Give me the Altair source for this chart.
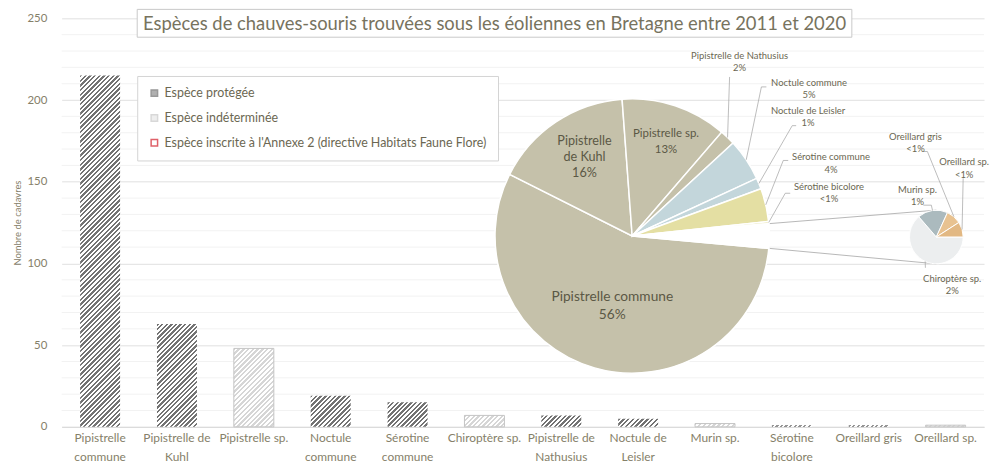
import json
import math
import altair as alt
import pandas as pd

# ---------------- données ----------------
especes = ["Pipistrelle commune", "Pipistrelle de Kuhl", "Pipistrelle sp.", "Noctule commune",
           "Sérotine commune", "Chiroptère sp.", "Pipistrelle de Nathusius", "Noctule de Leisler",
           "Murin sp.", "Sérotine bicolore", "Oreillard gris", "Oreillard sp."]
cadavres = [215, 63, 48, 19, 15, 7, 7, 5, 2, 1, 1, 1]
statuts = ["Espèce protégée", "Espèce protégée", "Espèce indéterminée", "Espèce protégée",
           "Espèce protégée", "Espèce indéterminée", "Espèce protégée", "Espèce protégée",
           "Espèce indéterminée", "Espèce protégée", "Espèce protégée", "Espèce indéterminée"]
etiquettes_x = [["Pipistrelle", "commune"], ["Pipistrelle de", "Kuhl"], ["Pipistrelle sp."],
                ["Noctule", "commune"], ["Sérotine", "commune"], ["Chiroptère sp."],
                ["Pipistrelle de", "Nathusius"], ["Noctule de", "Leisler"], ["Murin sp."],
                ["Sérotine", "bicolore"], ["Oreillard gris"], ["Oreillard sp."]]
categories_legende = ["Espèce protégée", "Espèce indéterminée",
                      "Espèce inscrite à l'Annexe 2 (directive Habitats Faune Flore)"]
graduations_y = [0, 50, 100, 150, 200, 250]
graduations_mineures = [10, 20, 30, 40, 60, 70, 80, 90, 110, 120, 130, 140,
                        160, 170, 180, 190, 210, 220, 230, 240]
ordre_principal = ["Pipistrelle commune", "Pipistrelle de Kuhl", "Pipistrelle sp.",
                   "Pipistrelle de Nathusius", "Noctule commune", "Noctule de Leisler",
                   "Sérotine commune", "Sérotine bicolore"]
ordre_secondaire = ["Chiroptère sp.", "Murin sp.", "Oreillard gris", "Oreillard sp."]
noms_camembert = {"Pipistrelle de Kuhl": "Pipistrelle\nde Kuhl"}
titre = "Espèces de chauves-souris trouvées sous les éoliennes en Bretagne entre 2011 et 2020"

# ---------------- styles / mise en page ----------------
W, H = 928, 411
OX, OY = 62, 17          # origine de la zone de tracé dans la page
PAD = {"left": 54, "top": 9, "right": 6, "bottom": 35}
Y_MAX = 250
P_INNER, P_OUTER = 0.48, 0.24
FONT = "Lato"
C_AXE = "#858069"
C_TEXTE = "#6b6752"
C_TEXTE_FONCE = "#5b5845"

couleurs_camembert = {
    "Pipistrelle commune": "#c5c1aa", "Pipistrelle de Kuhl": "#c5c1aa",
    "Pipistrelle sp.": "#c5c1aa", "Pipistrelle de Nathusius": "#c5c1aa",
    "Noctule commune": "#c3d6db", "Noctule de Leisler": "#c3d6db",
    "Sérotine commune": "#e4dfa3", "Sérotine bicolore": "#e4dfa3",
    "Autres": "#ffffff",
    "Chiroptère sp.": "#eceeef", "Murin sp.": "#abbabe",
    "Oreillard gris": "#e8c290", "Oreillard sp.": "#e2b883",
}
hachure = {"Espèce protégée": ("#737373", "#ffffff", None),
           "Espèce indéterminée": ("#d6d6d6", "#ffffff", "#c4c4c4")}


def P(x, y):
    """coordonnées page -> coordonnées zone de tracé"""
    return (x - OX, y - OY)


CX1, CY1 = P(636, 236)
R1 = 138
CX2, CY2 = P(942, 237)
R2 = 27

# étiquettes intérieures : centre de la 1re ligne (page), taille, interligne
pos_int = {"Pipistrelle commune": (616, 297, 13.8, 19),
           "Pipistrelle de Kuhl": (588, 140, 12.7, 16.5),
           "Pipistrelle sp.": (670, 133, 11.5, 17)}
# étiquettes extérieures : centre 1re ligne, fin du trait de rappel, petite queue
pos_ext = {"Pipistrelle de Nathusius": ((744, 55), (734, 76), None),
           "Noctule commune": ((814, 82), (766, 86), (771, 86)),
           "Noctule de Leisler": ((813, 110), (797, 125), (801, 125)),
           "Sérotine commune": ((836, 157), (788, 160), (793, 160)),
           "Sérotine bicolore": ((834, 187), (790, 193), (795, 193)),
           "Oreillard gris": ((921, 136), (933, 151), (928, 151)),
           "Oreillard sp.": ((970, 162), (969, 178), None),
           "Murin sp.": ((923, 190), (937, 205), (929, 205)),
           "Chiroptère sp.": ((958, 279), (931, 268), None)}

# ---------------- calculs ----------------
valeur = dict(zip(especes, cadavres))
total = sum(cadavres)
autres = sum(valeur[e] for e in ordre_secondaire)


def pct(v):
    p = math.floor(v / total * 100 + 0.5)
    return "<1%" if p < 1 else f"{p}%"


step = W / (len(especes) - P_INNER + 2 * P_OUTER)
bar_w = step * (1 - P_INNER)


def hachures(w, h, fonce, clair, pas=4.7, part=0.5):
    tot = w + h
    n = max(1, int(round(tot / pas)))
    stops = []
    for i in range(n):
        a, b, c = i / n, (i + part) / n, (i + 1) / n
        stops += [alt.GradientStop(color=fonce, offset=a), alt.GradientStop(color=fonce, offset=b),
                  alt.GradientStop(color=clair, offset=b), alt.GradientStop(color=clair, offset=c)]
    k = tot / (w * w + h * h)
    return alt.LinearGradient(gradient="linear", stops=stops, x1=0, y1=0, x2=k * w, y2=k * h)


df = pd.DataFrame({"espece": especes, "n": cadavres, "statut": statuts})

names_js = json.dumps(especes, ensure_ascii=False)
lines_js = json.dumps(etiquettes_x, ensure_ascii=False)

x_enc = alt.X("espece:N", sort=None,
              scale=alt.Scale(domain=especes, paddingInner=P_INNER, paddingOuter=P_OUTER),
              axis=alt.Axis(title=None, labelExpr=f"{lines_js}[indexof({names_js}, datum.value)]",
                            labelAngle=0, ticks=False, domainColor="#d9d9d9", labelColor=C_AXE,
                            labelFont=FONT, labelFontSize=12, labelLineHeight=18.5, labelPadding=6,
                            labelBaseline="top", labelOverlap=False, grid=False, labelLimit=200))
y_axis = alt.Axis(values=graduations_y, title="Nombre de cadavres", grid=True,
                  gridColor="#e0e0e0", domain=False, ticks=False, labelColor=C_AXE,
                  labelFont=FONT, labelFontSize=11.5, labelPadding=15,
                  titleFont=FONT, titleFontSize=9.5, titleColor=C_AXE,
                  titleFontWeight="normal", titleX=-44, titleY=H / 2,
                  titleAlign="center", titleBaseline="middle")
y_enc = alt.Y("n:Q", scale=alt.Scale(domain=[0, Y_MAX]), axis=y_axis)

layers = []

# barres hachurées
for e, v, s in zip(especes, cadavres, statuts):
    h = v * H / Y_MAX
    fonce, clair, trait = hachure[s]
    props = dict(fill=hachures(bar_w, h, fonce, clair))
    if trait:
        props.update(stroke=trait, strokeWidth=1)
    layers.append(alt.Chart(df).transform_filter(alt.datum.espece == e)
                  .mark_bar(**props).encode(x=x_enc, y=y_enc))

# quadrillage secondaire (sous les barres grâce à zindex)
grille = alt.Chart(pd.DataFrame({"n": graduations_mineures})).mark_rule(
    color="#f2f2f2", strokeWidth=1).encode(y=y_enc)
layers.insert(0, grille)

# camembert principal
noms_p = ordre_principal + ["Autres"]
vals_p = [valeur[e] for e in ordre_principal] + [autres]
df_p = pd.DataFrame({"espece": noms_p, "n1": vals_p, "ordre": list(range(len(noms_p)))})
a0 = math.pi / 2 + math.pi * autres / total
dom_c = list(couleurs_camembert.keys())
rng_c = list(couleurs_camembert.values())
col_enc = alt.Color("espece:N", scale=alt.Scale(domain=dom_c, range=rng_c), legend=None)

# camembert secondaire
vals_s = [valeur[e] for e in ordre_secondaire]
df_s = pd.DataFrame({"espece": ordre_secondaire, "n2": vals_s, "ordre": list(range(len(vals_s)))})
b0 = math.pi / 2


def bord(cx, cy, r, a):
    return (cx + r * math.sin(a), cy - r * math.cos(a))


def rule(p1, p2, color="#a6a6a6", w=0.8):
    return alt.Chart(df.head(1)).mark_rule(color=color, strokeWidth=w).encode(
        x=alt.value(p1[0]), y=alt.value(p1[1]), x2=alt.value(p2[0]), y2=alt.value(p2[1]))


# lignes de liaison entre les deux camemberts
ua = a0 + 2 * math.pi - 2 * math.pi * autres / total
la = a0 + 2 * math.pi
layers.append(rule(bord(CX1, CY1, R1, ua), (CX2, CY2 - R2)))
layers.append(rule(bord(CX1, CY1, R1, la), (CX2, CY2 + R2)))

layers.append(alt.Chart(df_p).mark_arc(radius=R1, stroke="white", strokeWidth=1.5).encode(
    theta=alt.Theta("n1:Q", stack=True, scale=alt.Scale(range=[a0, a0 + 2 * math.pi])),
    order=alt.Order("ordre:Q"), color=col_enc, x=alt.value(CX1), y=alt.value(CY1)))
layers.append(alt.Chart(df_s).mark_arc(radius=R2, stroke="white", strokeWidth=1).encode(
    theta=alt.Theta("n2:Q", stack=True, scale=alt.Scale(range=[b0, b0 + 2 * math.pi])),
    order=alt.Order("ordre:Q"), color=col_enc, x=alt.value(CX2), y=alt.value(CY2)))

# angles médians
mid = {}
acc = a0
for e, v in zip(noms_p, vals_p):
    mid[e] = ("p", acc + math.pi * v / total)
    acc += 2 * math.pi * v / total
acc = b0
for e, v in zip(ordre_secondaire, vals_s):
    mid[e] = ("s", acc + math.pi * v / autres)
    acc += 2 * math.pi * v / autres

# étiquettes intérieures
for e, (x, y, fs, lh) in pos_int.items():
    px, py = P(x, y)
    txt = noms_camembert.get(e, e) + "\n" + pct(valeur[e])
    layers.append(alt.Chart(df.head(1)).mark_text(
        text=txt, lineBreak="\n", lineHeight=lh, font=FONT, fontSize=fs, color=C_TEXTE_FONCE,
        align="center", baseline="middle").encode(x=alt.value(px), y=alt.value(py)))

# étiquettes extérieures + traits de rappel
for e, (t, fin, queue) in pos_ext.items():
    which, a = mid[e]
    rim = bord(CX1, CY1, R1, a) if which == "p" else bord(CX2, CY2, R2, a)
    f = P(*fin)
    layers.append(rule(rim, f, color="#a0a0a0", w=0.7))
    if queue:
        layers.append(rule(f, P(*queue), color="#a0a0a0", w=0.7))
    px, py = P(*t)
    txt = e + "\n" + pct(valeur[e])
    layers.append(alt.Chart(df.head(1)).mark_text(
        text=txt, lineBreak="\n", lineHeight=12.3, font=FONT, fontSize=9.5, color=C_TEXTE,
        align="center", baseline="middle").encode(x=alt.value(px), y=alt.value(py)))

# cadre du titre + titre
tx1, ty1 = P(138, 8)
tx2, ty2 = P(857, 36)
layers.append(alt.Chart(df.head(1)).mark_rect(fill="white", stroke="#c9c9c9", strokeWidth=1).encode(
    x=alt.value(tx1), x2=alt.value(tx2), y=alt.value(ty1), y2=alt.value(ty2)))
ttx, tty = P(497.5, 22.5)
layers.append(alt.Chart(df.head(1)).mark_text(
    text=titre, font=FONT, fontSize=18.5, color="#77735e", align="center", baseline="middle").encode(
    x=alt.value(ttx), y=alt.value(tty)))

# légende
lx, ly = P(138, 75)
leg = alt.Legend(orient="none", legendX=lx, legendY=ly, title=None, fillColor="white",
                 strokeColor="#d4d4d4", padding=11, symbolType="square", symbolSize=42,
                 symbolStrokeWidth=1.5, labelFont=FONT, labelFontSize=12.5, labelColor=C_TEXTE,
                 rowPadding=12, labelOffset=4, labelLimit=600)
df_leg = pd.DataFrame({"statut": categories_legende})
layers.append(alt.Chart(df_leg).mark_square(clip=True, size=42).encode(
    fill=alt.Fill("statut:N", scale=alt.Scale(domain=categories_legende,
                                              range=["#8f8f8f", "#e8e8e8", "#ffffff"]), legend=leg),
    stroke=alt.Stroke("statut:N", scale=alt.Scale(domain=categories_legende,
                                                  range=["#6e6e6e", "#c8c8c8", "#d21f2b"]), legend=leg),
    x=alt.value(-60), y=alt.value(-60)))

chart = alt.layer(*layers).properties(
    width=W, height=H, padding=PAD, autosize=alt.AutoSizeParams(type="none"), background="white"
).resolve_scale(theta="independent").configure_view(stroke=None)

chart.save("out.html", embed_options={"renderer": "svg", "actions": False})
